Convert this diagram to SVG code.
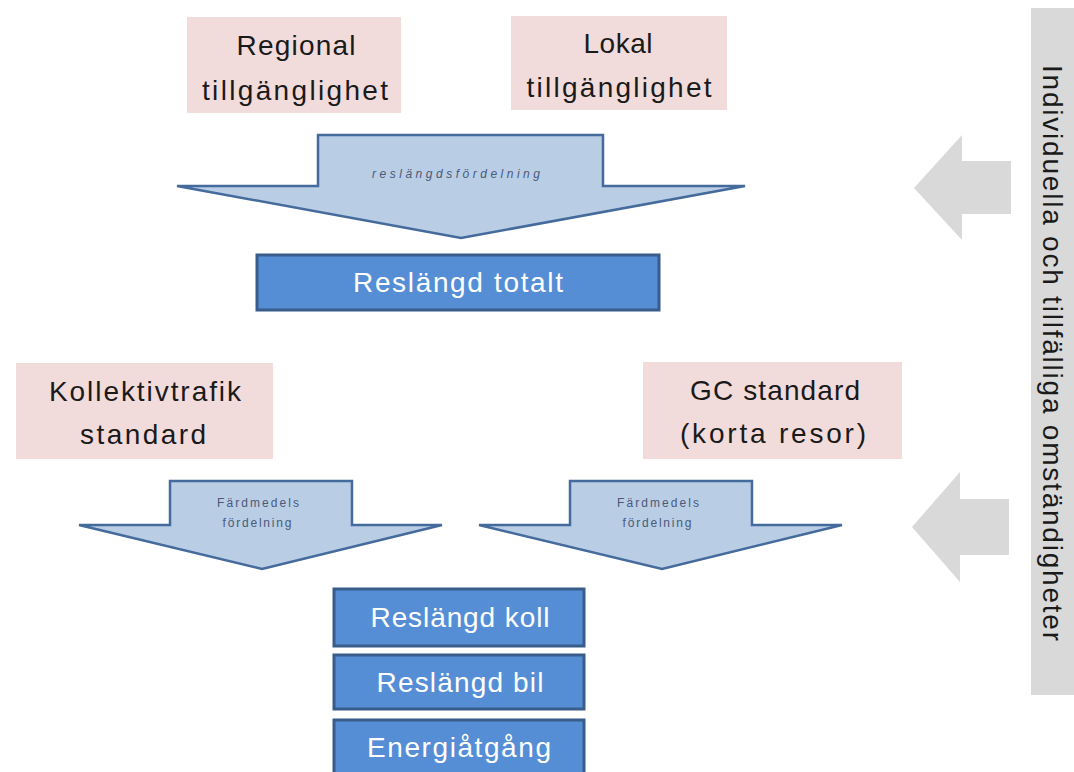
<svg xmlns="http://www.w3.org/2000/svg" width="1074" height="772" viewBox="0 0 1074 772">
<style>
.pink{fill:#f2dcdb}
.pt{font-family:"Liberation Sans",Arial,sans-serif;font-size:28px;fill:#1a1a1a;text-anchor:middle}
.blue{fill:#558ed5;stroke:#385d8a;stroke-width:3}
.bt{font-family:"Liberation Sans",Arial,sans-serif;font-size:28px;fill:#ffffff;text-anchor:middle}
.arr{fill:#b9cde5;stroke:#456a9c;stroke-width:2.5;stroke-linejoin:miter}
.at{font-family:"Liberation Sans",Arial,sans-serif;font-size:12px;fill:#4a5a78;text-anchor:middle}
.gray{fill:#d9d9d9}
.vt{font-family:"Liberation Sans",Arial,sans-serif;font-size:28px;fill:#1a1a1a;text-anchor:middle}
</style>
<rect width="1074" height="772" fill="#ffffff"/>
<g id="regional">
<rect class="pink" x="187" y="17" width="214" height="96"/>
<text class="pt" x="296" y="55" textLength="119">Regional</text>
<text class="pt" x="295" y="100" textLength="186">tillgänglighet</text>
</g>
<g id="lokal">
<rect class="pink" x="511" y="16" width="216" height="94"/>
<text class="pt" x="618" y="53" textLength="69">Lokal</text>
<text class="pt" x="619" y="97" textLength="185">tillgänglighet</text>
</g>
<g id="kollektivtrafik">
<rect class="pink" x="16" y="363" width="257" height="96"/>
<text class="pt" x="145" y="401" textLength="192">Kollektivtrafik</text>
<text class="pt" x="143" y="444" textLength="126">standard</text>
</g>
<g id="gc">
<rect class="pink" x="643" y="362" width="259" height="97"/>
<text class="pt" x="775" y="400" textLength="170">GC standard</text>
<text class="pt" x="773" y="443" textLength="186">(korta resor)</text>
</g>
<g id="arrow-reslangd">
<polygon class="arr" points="318,135 603,135 603,186 745,186 461,238 177,186 318,186"/>
<text class="at" x="456" y="178" font-style="italic" textLength="168">reslängdsfördelning</text>
</g>
<g id="reslangd-totalt">
<rect class="blue" x="257" y="255" width="402" height="55"/>
<text class="bt" x="458" y="292" textLength="210">Reslängd totalt</text>
</g>
<g id="arrow-fardmedel-1">
<polygon class="arr" points="170,481 352,481 352,525 442,525 262,569 79,525 170,525"/>
<text class="at" x="258" y="507" font-size="11" textLength="82">Färdmedels</text>
<text class="at" x="257" y="527" font-size="11" textLength="69">fördelning</text>
</g>
<g id="arrow-fardmedel-2">
<polygon class="arr" points="570,481 752,481 752,525 842,525 662,569 479,525 570,525"/>
<text class="at" x="658" y="507" font-size="11" textLength="82">Färdmedels</text>
<text class="at" x="657" y="527" font-size="11" textLength="69">fördelning</text>
</g>
<g id="reslangd-koll">
<rect class="blue" x="334" y="589" width="250" height="57"/>
<text class="bt" x="460" y="627" textLength="179">Reslängd koll</text>
</g>
<g id="reslangd-bil">
<rect class="blue" x="334" y="655" width="250" height="54"/>
<text class="bt" x="460" y="692" textLength="167">Reslängd bil</text>
</g>
<g id="energiatgang">
<rect class="blue" x="334" y="720" width="250" height="60"/>
<text class="bt" x="459" y="757" textLength="184">Energiåtgång</text>
</g>
<g id="omstandigheter">
<rect class="gray" x="1031" y="8" width="45" height="687"/>
<text class="vt" transform="translate(1043,353) rotate(90)" x="0" y="0" textLength="576">Individuella och  tillfälliga omständigheter</text>
</g>
<g id="connectors">
<polygon class="gray" points="914,188 962,135 962,161 1011,161 1011,214 962,214 962,240"/>
<polygon class="gray" points="912,527 960,472 960,499 1009,499 1009,555 960,555 960,582"/>
</g>
</svg>
